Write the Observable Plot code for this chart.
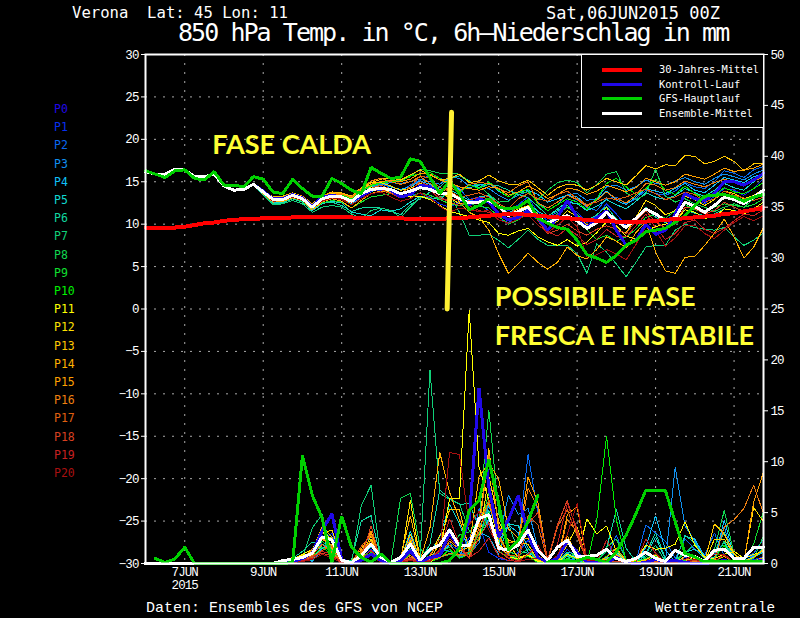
<!DOCTYPE html>
<html><head><meta charset="utf-8">
<script src="https://cdn.jsdelivr.net/npm/d3@7"></script>
<script src="https://cdn.jsdelivr.net/npm/@observablehq/plot@0.6"></script>
<style>
html,body{margin:0;background:#000;}
#wrap{position:relative;width:800px;height:618px;overflow:hidden;background:#000;font-family:"Liberation Mono",monospace;color:#fff;}
#wrap>div{position:absolute;white-space:pre;line-height:1;}
#chart{left:0;top:0;}
#legend{left:581px;top:54px;width:181px;height:72px;background:#000;border:1px solid #fff;}
#legend span{position:absolute;left:77px;font-size:10.4px;line-height:1;font-family:"DejaVu Sans Mono",monospace;}
#legend i{position:absolute;left:20px;width:40px;height:3px;}
</style></head><body>
<div id="wrap">
<div id="chart"></div>
<div style="left:72px;top:6px;font-size:15.6px;font-family:'DejaVu Sans Mono',monospace">Verona  Lat: 45 Lon: 11</div>
<div style="left:546px;top:5px;font-size:17px;font-family:'DejaVu Sans Mono',monospace">Sat,06JUN2015 00Z</div>
<div style="left:178px;top:20px;font-size:25px;letter-spacing:-1.95px;font-family:'DejaVu Sans Mono',monospace">850 hPa Temp. in °C, 6h–Niederschlag in mm</div>
<div style="left:146px;top:601px;font-size:15px">Daten: Ensembles des GFS von NCEP</div>
<div style="left:655px;top:601px;font-size:14.3px">Wetterzentrale</div>
<div id="members" style="left:54px;top:0"></div>
<div id="legend"></div>
</div>
<script>
// 6-hourly steps: index 0 = 6 JUN 00Z, index 63 = 21 JUN 18Z
const tickIndex = [4,12,20,28,36,44,52,60];
const tickLabels = ["7JUN\n2015","9JUN","11JUN","13JUN","15JUN","17JUN","19JUN","21JUN"];
const tempTicks = [-30,-25,-20,-15,-10,-5,0,5,10,15,20,25,30];
const rainTicks = [0,5,10,15,20,25,30,35,40,45,50];
const memberNames = ["P0","P1","P2","P3","P4","P5","P6","P7","P8","P9","P10","P11","P12","P13","P14","P15","P16","P17","P18","P19","P20"];
const memberColors = ["#2008e8","#0830f0","#0868f0","#1090f0","#10c0f8","#10d8d0","#10d8a0","#10d078","#10d850","#10e030","#00f000","#ffff00","#ffe000","#ffc800","#ffb000","#ffa000","#f08010","#e06010","#d84020","#c82020","#a81010"];

const climate = [9.6,9.6,9.6,9.6,9.7,9.9,10.1,10.2,10.4,10.5,10.6,10.6,10.7,10.7,10.7,10.8,10.9,10.9,10.9,10.8,10.8,10.8,10.7,10.7,10.7,10.7,10.7,10.6,10.6,10.6,10.6,10.7,10.7,10.8,10.9,11.0,11.1,11.2,11.2,11.1,11.0,10.9,10.8,10.7,10.6,10.5,10.4,10.4,10.3,10.3,10.3,10.3,10.4,10.5,10.6,10.7,10.8,10.9,11.0,11.2,11.3,11.5,11.7,11.9];
const gfsTemp = [16.3,15.9,15.5,16.3,16.4,15.4,15.2,16.2,14.6,14.6,14.4,15.6,15.3,13.8,13.6,15.3,14.2,13.3,13.3,15.4,14.8,14.0,13.6,16.7,16.0,15.4,15.5,17.7,17.4,15.5,13.6,15.1,13.6,11.7,12.2,13.0,12.0,11.8,12.0,12.8,10.7,10.1,9.6,9.4,8.1,6.4,6.0,5.5,6.3,7.5,8.1,9.1,9.3,9.5,10.2,11.0,12.2,13.3,13.4,13.5,13.2,12.7,13.2,13.5];
const meanTemp = [16.2,15.9,15.9,16.5,16.4,15.6,15.6,15.9,14.5,14.0,14.1,14.7,13.8,12.9,12.9,13.4,13.0,12.0,13.0,13.3,13.2,12.7,13.6,14.1,14.2,14.1,13.6,13.9,14.3,14.1,13.6,13.6,13.0,12.5,12.6,12.8,12.1,11.0,11.5,12.0,10.8,10.1,10.7,11.0,10.4,9.5,10.2,11.4,10.4,9.6,10.7,11.8,11.2,10.4,10.8,12.6,12.1,11.4,12.2,13.2,12.9,12.4,13.2,14.0];
const trunkTemp = [16.2,15.9,15.9,16.5,16.4,15.6,15.6,15.9,14.5,14.0,14.1,14.7];

// member temperatures, index 12 to 63
const t0 = [13.9,13.0,13.0,13.5,13.1,12.1,13.2,13.4,13.2,12.7,13.3,14.0,14.3,14.0,13.2,13.5,14.6,14.4,13.6,13.6,13.0,12.3,13.0,12.6,11.2,10.5,10.8,11.6,10.7,9.3,10.8,12.8,10.8,9.6,10.7,11.6,9.3,7.5,8.1,10.0,8.8,9.3,11.2,13.6,13.0,12.8,13.6,15.0,15.0,14.6,15.2,16.0];
const t1 = [13.9,13.0,13.0,13.5,13.1,12.2,13.1,13.4,13.2,12.6,13.4,13.9,14.0,13.8,13.1,13.4,13.6,13.2,12.4,12.0,12.6,12.9,13.2,12.6,12.0,11.6,12.3,13.2,11.4,10.4,11.0,12.2,11.4,10.2,11.0,12.4,11.2,9.8,10.4,12.0,11.0,10.6,10.9,13.4,12.9,12.4,13.3,14.2,14.0,13.4,14.2,15.4];
const t2 = [13.7,12.8,12.9,13.3,12.9,11.9,13.1,13.5,13.4,12.9,13.9,14.5,14.7,14.4,14.0,14.6,15.2,15.8,15.4,15.0,14.2,12.9,12.4,11.6,10.5,10.2,11.0,11.8,10.9,10.8,11.4,12.6,12.9,12.0,11.6,13.0,13.2,12.4,13.0,14.0,13.6,13.4,13.9,14.9,14.4,14.2,15.0,16.3,16.0,15.5,16.4,16.8];
const t3 = [13.8,12.9,13.0,13.4,13.0,12.1,12.9,13.3,13.1,12.8,13.5,14.4,14.6,14.9,14.8,15.0,15.3,15.0,14.7,15.6,15.4,14.5,14.7,14.2,13.4,12.8,13.4,13.9,12.6,11.6,12.3,13.5,13.6,12.8,13.0,14.4,14.6,14.0,14.4,15.2,14.8,14.6,15.1,15.5,15.0,14.7,15.4,15.9,15.6,15.2,15.9,16.4];
const t4 = [13.6,12.7,12.8,13.2,12.8,11.8,12.8,13.2,13.0,12.4,13.2,13.8,14.3,14.4,14.1,14.4,15.1,14.7,14.1,14.6,14.1,14.3,14.6,14.8,13.9,13.2,13.8,14.0,13.5,12.6,13.0,13.4,13.2,12.2,12.9,13.9,12.8,12.3,13.2,14.2,13.9,13.6,14.2,14.8,14.0,13.7,14.6,15.5,15.2,14.9,15.6,15.9];
const t5 = [13.5,12.5,12.6,13.0,12.6,11.6,12.4,12.7,12.5,11.4,11.2,11.0,11.7,11.5,11.8,12.6,13.3,13.1,12.9,14.0,13.5,12.8,13.2,13.4,12.2,11.3,12.0,12.6,11.5,10.9,11.8,12.6,12.4,11.6,12.1,12.9,12.3,11.8,12.7,13.7,13.2,12.9,13.4,14.2,13.7,13.3,14.0,14.8,14.3,14.0,15.0,15.8];
const t6 = [13.4,12.4,12.5,13.0,12.6,11.7,12.6,12.6,12.2,11.5,11.9,12.0,11.9,11.6,11.1,12.3,13.0,13.8,14.4,15.4,15.7,15.1,14.3,14.7,14.5,14.0,13.5,13.1,12.1,11.0,11.6,12.2,11.0,10.4,11.1,12.1,10.6,9.6,10.8,12.0,10.8,10.2,10.6,11.7,11.3,11.0,11.2,11.8,11.6,11.3,11.6,12.2];
const t7 = [13.5,12.3,12.4,12.8,12.4,11.4,12.0,12.2,12.0,11.2,10.7,11.6,11.9,11.6,10.8,12.0,13.2,13.0,13.2,13.6,11.4,8.7,8.7,8.8,8.1,7.2,8.2,9.3,8.2,7.5,7.5,7.5,6.5,4.2,7.7,6.7,5.3,3.8,5.5,7.3,7.5,7.5,9.3,10.0,9.6,9.4,9.3,9.6,8.5,7.5,8.1,9.0];
const t8 = [13.9,13.0,13.1,13.5,13.2,12.3,13.3,13.6,13.5,13.0,13.8,14.5,14.8,15.2,15.1,15.6,16.5,16.3,16.0,16.0,15.9,15.0,14.6,13.5,12.6,12.7,13.7,13.8,12.9,14.0,14.9,15.2,14.9,13.7,14.7,15.9,16.2,13.7,12.9,13.5,16.5,13.3,12.6,13.0,12.4,12.0,11.5,12.0,12.4,12.0,13.0,14.0];
const t9 = [13.7,12.8,12.7,13.1,12.7,11.7,12.5,12.8,12.6,11.9,12.6,13.2,13.4,13.6,13.4,13.2,13.7,13.4,12.9,12.4,12.2,12.4,12.1,11.9,10.9,10.0,10.5,11.4,10.6,10.1,11.2,12.0,11.2,9.3,8.2,8.7,8.0,8.5,9.4,10.8,11.2,10.7,11.6,12.3,11.7,11.5,12.0,12.4,12.2,12.0,12.3,13.0];
const t10 = [13.9,13.1,13.0,13.6,13.2,12.3,13.2,13.5,13.4,13.0,14.0,14.6,14.9,15.0,15.0,15.7,15.9,16.1,15.4,14.8,13.7,14.6,14.2,15.0,14.0,13.2,13.8,14.1,12.4,11.6,12.3,13.0,12.6,11.7,13.0,14.8,15.4,14.4,13.5,14.2,15.3,14.0,13.5,14.5,13.6,13.0,13.4,14.3,13.8,13.6,14.2,14.9];
const t11 = [13.8,13.0,12.9,13.3,12.9,12.0,12.9,13.2,13.0,12.5,13.5,14.4,14.2,13.7,13.3,13.2,13.3,12.9,12.2,11.5,11.2,10.9,10.5,10.2,8.9,8.7,9.2,9.5,8.5,7.9,7.5,8.2,7.4,7.9,9.0,10.3,9.8,8.6,8.2,9.2,9.7,10.0,10.3,11.7,11.4,10.7,10.8,11.8,11.6,11.2,11.8,12.6];
const t12 = [13.7,12.7,12.9,13.4,13.1,12.1,13.0,13.6,13.7,13.2,14.1,14.9,14.9,14.5,14.0,14.2,14.8,14.4,13.8,13.1,12.4,12.6,12.9,12.6,11.9,11.2,11.8,12.2,11.2,10.0,10.3,11.6,10.9,9.9,10.4,12.0,9.2,9.0,10.8,12.8,12.2,11.1,11.6,13.3,12.9,12.2,12.9,13.9,13.6,13.0,13.4,14.1];
const t13 = [14.0,13.2,13.3,13.7,13.3,12.4,13.3,13.8,13.7,13.3,14.3,14.9,15.3,15.5,15.2,15.8,16.4,15.8,15.2,15.4,15.9,14.9,15.1,15.8,15.1,14.7,14.7,15.2,14.3,13.4,14.3,14.7,14.6,14.0,14.6,15.4,15.0,14.6,15.7,16.9,16.5,17.0,16.9,18.1,18.0,17.1,17.4,18.0,17.4,16.3,17.1,17.2];
const t14 = [13.6,12.6,12.7,13.1,12.8,11.7,12.6,13.0,12.7,11.9,12.8,13.6,13.9,13.7,13.2,13.6,14.3,14.6,13.8,14.2,12.6,11.4,10.8,9.3,6.5,4.2,5.3,6.6,5.5,4.7,5.5,7.3,6.3,5.9,7.0,8.5,8.0,7.2,9.0,10.3,6.7,4.5,4.2,6.1,6.2,7.5,8.9,10.6,8.5,6.0,7.3,9.6];
const t15 = [14.0,13.1,13.2,13.6,13.3,12.3,13.3,13.7,13.6,13.1,14.1,14.7,15.0,15.2,15.0,15.3,16.0,15.9,15.2,14.9,14.4,14.2,14.0,14.4,14.2,13.4,13.8,14.5,13.9,13.0,13.5,14.2,14.1,13.5,13.9,14.6,14.2,13.8,14.3,15.4,15.0,14.6,15.0,15.9,15.6,15.3,15.9,16.6,16.2,16.4,16.6,17.1];
const t16 = [13.8,12.9,13.1,13.5,13.0,12.0,13.1,13.5,13.5,13.2,14.2,15.1,15.4,15.0,14.7,15.0,15.6,14.8,14.0,14.3,13.9,14.7,14.9,14.8,14.2,13.7,14.5,15.0,12.5,11.9,12.6,13.4,12.9,12.1,12.8,13.8,13.0,12.5,13.4,14.8,14.6,14.0,14.3,15.1,14.7,14.4,14.9,15.3,14.9,14.6,15.1,15.5];
const t17 = [13.7,12.8,13.0,13.4,13.0,12.1,13.0,13.4,13.2,12.7,13.6,14.2,14.6,14.1,13.6,14.4,15.7,15.4,14.3,13.9,13.2,13.4,13.7,13.2,12.4,11.8,13.0,13.6,13.0,12.7,13.5,13.9,13.0,12.3,12.6,13.1,12.9,13.2,13.7,14.1,13.6,12.9,13.2,13.8,13.5,12.6,13.0,13.9,13.4,13.1,12.8,13.2];
const t18 = [13.9,13.0,12.9,13.3,13.0,12.1,13.1,13.3,13.1,12.5,13.3,14.0,14.3,14.0,13.5,14.0,15.0,14.5,13.2,12.6,12.2,12.8,13.2,13.0,12.0,10.9,12.2,12.6,10.4,8.9,9.3,10.0,9.2,8.7,9.4,9.8,9.4,8.9,10.4,11.6,10.2,9.6,10.4,12.0,11.8,11.2,11.6,12.6,12.0,11.5,11.9,12.2];
const t19 = [13.8,12.8,12.9,13.3,12.9,12.0,12.8,13.2,13.0,12.6,13.4,13.9,14.1,13.6,13.1,13.7,14.6,14.0,13.0,12.8,13.0,12.2,11.6,11.4,10.8,10.7,11.0,11.4,10.5,9.1,8.6,9.5,8.7,7.6,8.2,9.4,8.6,8.5,9.8,11.2,9.6,8.2,8.9,10.2,10.5,9.4,8.9,9.5,10.4,11.2,11.0,11.7];
const t20 = [13.7,12.7,12.8,13.2,12.8,11.9,12.7,13.1,12.9,12.3,13.0,13.6,13.8,13.2,12.7,13.0,13.7,13.1,12.1,11.4,11.9,11.7,11.5,11.6,10.5,10.1,10.6,11.1,9.9,9.0,9.9,10.8,9.7,6.1,6.4,7.0,6.5,5.8,7.6,9.7,9.3,7.4,8.4,9.8,9.9,8.9,8.3,9.3,10.2,10.9,10.4,11.0];
const tempTails = [t0,t1,t2,t3,t4,t5,t6,t7,t8,t9,t10,t11,t12,t13,t14,t15,t16,t17,t18,t19,t20];

// precipitation in mm
const gfsRainA = [0.5,0.1,0.45,1.6,0,0,0,0,0,0,0,0,0,0,0.1,10.6,6.7,4.5,0.1,4.65,1.6,0.6,0.1,0.95,0,0,0,0,0,0,0.3,1.5,5.2,6.2,10.2,5.9,1.3,2.3,4.1,6.7];
const gfsRainB = [0.15,0.15,0.15,0.25,0.6,0.4,0.1,1.15,2.8,4.9,7.2,7.15,7.15,4.1,1.0,0.65,0.15,0.15,0.15,0.15,0.15,0.15,0.15];
const meanRain = [0,0,0,0,0,0,0,0,0,0,0,0,0,0,0.3,0.4,0.6,1,2.6,2.3,0.3,0.1,0.8,1.9,0.6,0.1,0.6,1.9,0.3,1.4,1.8,3.3,1.7,1.8,4.4,4.8,1.5,1.3,1.8,3.3,1.3,0.3,1.6,2.3,0.7,0.7,0.8,1.4,0.5,0.2,0.5,1.1,0.5,0.2,1.3,0.8,0.7,0.2,1.3,1.4,0.5,0.5,1.6,1.6];

// member precipitation, index 13 to 63
const r0 = [0,.1,.2,.5,1,3.2,4.9,.4,0,.3,.9,.3,0,.3,1.2,.1,.6,.8,3,1.5,4.3,17.2,7.5,2.6,4.3,6.7,3,.6,.1,.5,2.2,1.1,.1,.1,.1,.6,.1,0,.1,.4,.2,.3,.1,0,0,.1,.3,.1,.1,.2,.3];
const r1 = [0,.1,.1,.3,.9,2.1,3,.3,0,.5,1.4,.2,0,.4,1.5,.2,.3,.7,2,1.2,2.5,3.8,1.1,.5,.3,1.1,2.3,.7,.1,.3,1.4,.5,.1,.1,.3,.8,.1,0,.2,.5,.1,.1,.6,.2,.1,.2,.1,.1,.2,.4,.6];
const r2 = [0,.2,.1,.4,1,2.8,1.4,.2,0,.2,.8,.1,0,.2,2.6,.4,.2,.5,3.5,1.1,.7,5.4,3.8,1.6,.9,2.2,10.7,5,.3,.2,.9,.4,.1,.1,.4,2.8,.3,.2,3.8,3,2.2,.5,2.4,1.4,.8,3,.7,.2,.5,1,2.4];
const r3 = [0,0,.3,.7,.2,1.4,2.6,.5,0,.4,2.9,.2,0,.1,1.3,.1,.5,1.4,1.2,.6,1,2,5.8,2.3,6.7,4.8,5.4,1.5,.2,.1,.5,.3,.1,.1,.2,1,.1,0,.5,.8,.2,9.5,3.7,2.2,.6,.9,3.6,.4,.5,.8,1.1];
const r4 = [0,.1,.4,.2,.6,1.5,1.9,.1,0,.6,1.7,.3,0,.2,2,.3,.3,1,1.8,.8,2.2,3.1,2.6,.9,3.8,3,1.1,.4,.1,.2,1,.6,.1,.1,.5,.9,.1,.1,1.6,4.7,1.3,.2,2.7,2.4,.7,.3,4.3,.6,.2,.7,1.3];
const r5 = [0,0,.2,.6,.3,1.8,2.4,.3,.1,.8,1.9,.5,0,.3,3.2,.2,1.1,2.6,5.8,3.9,1.2,2.4,4.4,2,3.9,3.7,1.5,.3,0,.1,.7,.4,0,.2,.3,1.1,.1,.1,.8,2.6,.4,.2,1.1,1.4,.5,.6,2.1,.2,.3,.6,1.1];
const r6 = [0,.1,.5,1.2,2.1,1.9,1.1,.2,.3,4.2,4.7,.4,0,.6,1.8,.2,1.9,7.2,6.4,5.8,5.9,3.6,5.2,1.8,3.9,1.2,1,.2,0,.2,1.1,.9,.1,.2,1.5,5.3,1.5,.2,1,3,.5,.1,2.8,2,.6,1.1,3.1,.2,.1,.6,1.6];
const r7 = [.1,.4,.2,.6,3.5,4.8,1,.1,.1,5.7,7.7,.3,0,.2,.6,.6,19,6.9,6.3,5.9,3.2,2.4,6.1,3.1,.8,.5,.9,.2,0,.1,.4,.9,.2,.3,1.2,1.4,.2,.1,.6,1.8,.2,.1,1,1.9,.5,.4,2.2,.5,.1,.3,.5];
const r8 = [0,.1,.3,.7,1.2,2.6,1.7,.1,0,.5,1.3,.2,0,6.4,6.9,1.5,.4,1.1,1.6,2.8,3.1,4.2,15.1,5,1.2,.8,1.4,.4,.1,.1,.8,.4,.1,.1,1.6,2.4,.4,.1,.3,.7,.1,.3,1.1,.7,.2,1.4,5.2,.9,.1,.5,2.7];
const r9 = [0,0,.2,.5,.9,2.2,1.3,.2,.1,.3,.9,.1,0,.3,1.4,.1,.3,.6,.9,.7,1.1,2.9,7,2.5,.9,.5,.9,.3,0,.1,.5,1.2,.2,.1,.7,1.5,.3,.1,.5,.9,.1,.1,.3,.4,.1,.2,.7,.1,.2,1.9,5.1];
const r10 = [0,.1,.1,.4,.7,1.6,.9,.1,0,.4,1.1,.1,0,.1,1,.1,.2,.5,1.4,.5,.9,2.4,5,1.2,.6,.4,.7,.1,0,.1,.4,.2,0,4.2,12.5,4.3,.3,.2,.4,.2,0,.1,.2,.3,.1,.5,1.8,.2,.1,.3,.5];
const r11 = [0,.2,.4,.9,1.4,3.1,2.4,.1,0,.6,2.4,.3,0,.3,2.2,.2,.1,.9,6.4,6.4,24.9,9.5,6.2,2,.6,.5,.8,.2,.1,.1,.9,.5,4.4,2.9,3.7,1.2,.2,.3,1.8,1.4,1.5,1.9,4.1,1.8,.6,.5,.9,1.2,.5,.9,1.2];
const r12 = [0,.1,.3,.8,1.1,2.9,3.3,.4,0,.3,2.4,.3,0,.2,6.2,.3,.6,2.8,3,1.2,1.6,2.3,8.6,4.2,1.9,.6,.9,.3,.1,.1,1.9,3.6,.2,.1,.3,.7,.1,.1,.4,.8,.2,.1,.7,.5,.1,2.4,2.4,.9,.2,5.5,4.1];
const r13 = [0,0,.2,.6,1.2,3.6,2.6,.2,.1,.9,2.7,.2,0,.4,2.9,.3,.4,2,5.3,5.3,1.3,3.9,11.3,3.4,2.3,2,1.9,.3,.1,.2,2.2,.5,.1,.2,.4,.9,.1,0,.3,.5,.2,.1,.2,.7,.2,3.9,2.9,1,.2,.6,1.4];
const r14 = [.1,.3,.6,.2,.9,2.4,1.8,.1,.2,1.4,3,.4,0,.5,4.7,.3,3.5,10.9,7,4.3,1.6,8.5,9.9,8.3,3.4,2.5,2.5,.8,.1,.2,2.7,.9,.1,.1,.6,1.5,.3,.1,.2,.4,.1,.2,.4,.2,.1,.3,.7,.2,.1,.2,.6];
const r15 = [0,.1,.2,.5,1.4,2.7,1.5,.2,.1,1,3.2,.1,0,.2,2.4,.2,.2,.8,2.2,1.4,2,4.4,5.9,2.8,1,2.1,8.5,6,.2,.3,4.8,5.6,.2,.1,.2,.6,.1,.1,.2,.3,.1,.1,.1,.2,0,.2,.3,.1,.2,6,9];
const r16 = [0,0,.1,.3,.8,1.9,1.1,.1,.1,1.2,2.2,.3,0,.1,.8,.1,.3,.6,1,.9,.7,3.5,10.7,3.7,2.1,1.9,7.4,5.5,.3,.2,4.3,3.1,.2,.1,.2,.8,.1,0,.1,.3,.1,.1,.1,.2,.1,.3,3.6,4.3,5.4,7.7,4.9];
const r17 = [0,.1,.2,.4,.6,1.3,1.7,.1,0,1.7,2.8,.2,0,.1,.6,.1,.8,2.4,1.8,.7,1.2,3.1,6.3,2.6,.8,.7,4.7,3.8,.2,3.6,5.3,2.7,.2,.1,.3,.5,.1,0,.1,.2,.1,.1,.1,.1,0,.1,.2,.1,.1,.2,.3];
const r18 = [0,0,.1,.3,.7,1,.8,.1,.2,.6,3.7,.1,0,.1,.4,.1,.2,1.3,2.4,1.6,.5,2.6,4,1.2,.5,.3,3.9,5,.4,3.8,6.2,3,.2,.1,.3,.2,.1,0,.1,.1,.1,.1,.1,.3,.1,.1,.1,.1,.1,.1,.2];
const r19 = [0,.1,.2,.3,.5,1.2,.9,.1,.1,.4,1.3,.1,0,.2,.5,.1,.3,1.4,4.4,1.9,.6,1.2,2.5,.7,.3,.2,.9,1.8,.1,1.9,5.9,3.4,.3,.1,2.3,.6,.1,.1,2.4,1,.1,.1,.4,.8,.1,.2,.9,.1,.1,.2,.3];
const r20 = [0,0,.1,.2,.4,.9,.6,0,.1,.3,.8,.1,0,.1,.3,.1,.2,1.2,10.9,10.7,3.8,5.1,3.3,1.8,.6,.2,.4,.5,0,.8,2.9,5.9,.4,.2,.3,.7,.1,0,.2,1,.1,.1,.2,.4,.1,1,.8,.1,.1,.1,.2];
const rainTails = [r0,r1,r2,r3,r4,r5,r6,r7,r8,r9,r10,r11,r12,r13,r14,r15,r16,r17,r18,r19,r20];

const legendNames = ["30-Jahres-Mittel","Kontroll-Lauf","GFS-Hauptlauf","Ensemble-Mittel"];
const legendColors = ["#ff0000","#2008e8","#00d000","#ffffff"];
const legendWidths = [4,3,3,3];
const divider = [{i:31.2,t:23.2},{i:30.75,t:0}];
const noteCentre = [{i:14.9,t:19.3,s:"FASE CALDA"}];
const noteLeft = [{i:35.6,t:1.35,s:"POSSIBILE FASE"},{i:35.6,t:-3.25,s:"FRESCA E INSTABILE"}];

const rainToTemp = mm => -30 + mm * 60 / 50;
const series = (arr, start) => arr.map((v,n) => ({i:start+n, v}));
const rain = (arr, start, z) => series(arr,start).map(d => ({i:d.i, v:rainToTemp(d.v), z}));
const temp = (arr, start, z) => series(arr,start).map(d => ({...d, z}));

const thin = tempTails.flatMap((tail,k) => k===0 ? [] : temp(trunkTemp.concat(tail),0,"t"+k).map(d => ({...d,k})))
  .concat(rainTails.flatMap((tail,k) => k===0 ? [] : rain(tail,13,"r"+k).map(d => ({...d,k}))));
const p0Rows = temp(trunkTemp.concat(t0),0,"t").concat(rain(r0,13,"r"));
const whiteRows = temp(meanTemp,0,"t").concat(rain(meanRain,0,"r"));
const greenRows = temp(gfsTemp,0,"t").concat(rain(gfsRainA,1,"a"),rain(gfsRainB,41,"b"));
const redRows = series(climate,0);
const px = {x:"i", y:"v", shapeRendering:"crispEdges", strokeLinejoin:"miter"};
const noteStyle = {x:"i", y:"t", text:"s", fill:"#ffff33", fontSize:27, fontWeight:"bold", fontFamily:"Lato"};
const tickStyle = {label:null, tickSize:4, tickPadding:3, stroke:"#fff", fill:"#fff"};

const chart = Plot.plot({
  width:800, height:618,
  marginLeft:145, marginRight:37, marginTop:54, marginBottom:55,
  style:{background:"#000", color:"#fff", fontFamily:"'Liberation Mono',monospace", fontSize:"12.5px", letterSpacing:"-0.9px"},
  x:{domain:[0,63], label:null},
  y:{domain:[-30,30], label:null},
  marks:[
    Plot.gridY(tempTicks,{stroke:"#aaa", strokeOpacity:1, strokeDasharray:"2,7"}),
    Plot.gridX(tickIndex,{stroke:"#aaa", strokeOpacity:1, strokeDasharray:"2,7"}),
    Plot.line(thin,{...px, z:"z", stroke:d=>memberColors[d.k], strokeWidth:1}),
    Plot.line(p0Rows,{...px, z:"z", stroke:memberColors[0], strokeWidth:3}),
    Plot.line(whiteRows,{...px, z:"z", stroke:"#fff", strokeWidth:3}),
    Plot.line(greenRows,{...px, z:"z", stroke:"#00d000", strokeWidth:3}),
    Plot.line(redRows,{...px, stroke:"#ff0000", strokeWidth:4}),
    Plot.line(divider,{x:"i", y:"t", stroke:"#fff033", strokeWidth:5}),
    Plot.text(noteCentre,{...noteStyle, textAnchor:"middle"}),
    Plot.text(noteLeft,{...noteStyle, textAnchor:"start"}),
    Plot.frame({stroke:"#fff", strokeWidth:2}),
    Plot.axisY(tempTicks,{...tickStyle, anchor:"left", tickFormat:d=>d<0?"\u2212"+(-d):String(d)}),
    Plot.axisY(rainTicks.map(rainToTemp),{...tickStyle, anchor:"right", tickFormat:d=>String(Math.round((d+30)*50/60))}),
    Plot.axisX(tickIndex,{anchor:"bottom", label:null, tickSize:0, tickPadding:4, fill:"#fff", tickFormat:d=>tickLabels[tickIndex.indexOf(d)]})
  ]
});
document.getElementById("chart").appendChild(chart);
chart.querySelectorAll('[font-size="27"]').forEach(g=>{ g.style.letterSpacing="0"; });

const mem = document.getElementById("members");
memberNames.forEach((n,k)=>{
  const e=document.createElement("div");
  e.textContent=n;
  e.style.cssText=`position:absolute;left:0;top:${104+18.2*k}px;font-size:11.5px;font-family:'DejaVu Sans Mono',monospace;color:${memberColors[k]};`;
  mem.appendChild(e);
});
const leg = document.getElementById("legend");
legendNames.forEach((n,k)=>{
  const y=13+14.6*k;
  const l=document.createElement("i");
  l.style.top=y+"px"; l.style.height=legendWidths[k]+"px"; l.style.background=legendColors[k];
  const s=document.createElement("span");
  s.textContent=n; s.style.top=(y-4)+"px";
  leg.append(l,s);
});
</script>
</body></html>
